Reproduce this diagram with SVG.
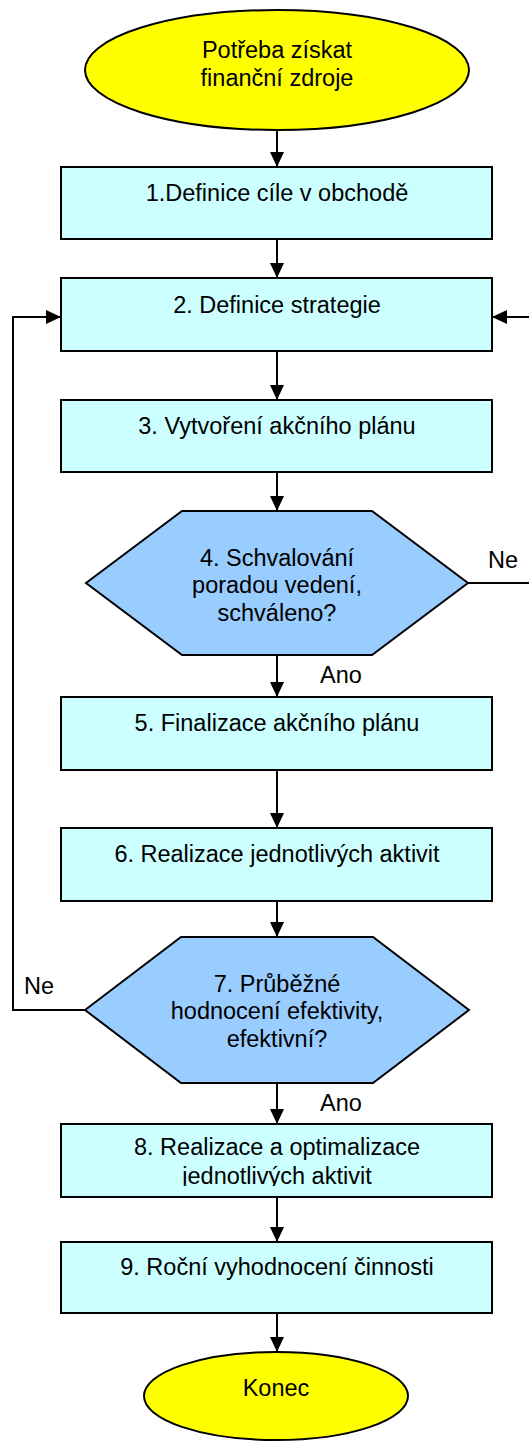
<svg xmlns="http://www.w3.org/2000/svg" width="529" height="1441" viewBox="0 0 529 1441">
  <style>
    .term { fill: #FFFF00; stroke: #000; stroke-width: 2; }
    .proc { fill: #CCFFFF; stroke: #000; stroke-width: 2; }
    .dec { fill: #99CCFF; stroke: #000; stroke-width: 2; }
    .lbl { font-family: "Liberation Sans", Arial, sans-serif; font-size: 23.5px; fill: #000; text-anchor: middle; }
    .tag { font-family: "Liberation Sans", Arial, sans-serif; font-size: 23.5px; fill: #000; }
    .conn { fill: none; stroke: #000; stroke-width: 2; marker-end: url(#arrow); }
  </style>
  <defs>
    <marker id="arrow" markerUnits="userSpaceOnUse" markerWidth="16" markerHeight="14" refX="15" refY="7" orient="auto">
      <path d="M0,0 L15,7 L0,14 z" fill="#000"/>
    </marker>
    <clipPath id="clip8">
      <rect x="61" y="1124" width="431" height="62"/>
    </clipPath>
  </defs>
  <rect width="529" height="1441" fill="#fff"/>

  <!-- connectors -->
  <g id="connectors">
    <path class="conn" d="M277,130 L277,167"/>
    <path class="conn" d="M277,239 L277,278"/>
    <path class="conn" d="M277,351 L277,400"/>
    <path class="conn" d="M277,472 L277,511"/>
    <path class="conn" d="M277,655 L277,697"/>
    <path class="conn" d="M277,770 L277,828"/>
    <path class="conn" d="M277,901 L277,937"/>
    <path class="conn" d="M277,1083 L277,1124"/>
    <path class="conn" d="M277,1197 L277,1242"/>
    <path class="conn" d="M277,1313 L277,1352"/>
    <!-- loop back from decision 4 (Ne) -->
    <path class="conn" d="M468,583 L531,583 L531,317 L492,317"/>
    <!-- loop back from decision 7 (Ne) -->
    <path class="conn" d="M85,1010 L13,1010 L13,317 L61,317"/>
    <text class="tag" x="488" y="568">Ne</text>
    <text class="tag" x="320" y="683">Ano</text>
    <text class="tag" x="24" y="994">Ne</text>
    <text class="tag" x="320" y="1111">Ano</text>
  </g>

  <g id="start">
    <ellipse class="term" cx="277" cy="70" rx="192" ry="60"/>
    <text class="lbl" x="277" y="58">Potřeba získat</text>
    <text class="lbl" x="277" y="86">finanční zdroje</text>
  </g>

  <g id="step1">
    <rect class="proc" x="61" y="167" width="431" height="72"/>
    <text class="lbl" x="277" y="201">1.Definice cíle v obchodě</text>
  </g>

  <g id="step2">
    <rect class="proc" x="61" y="278" width="431" height="73"/>
    <text class="lbl" x="277" y="313">2. Definice strategie</text>
  </g>

  <g id="step3">
    <rect class="proc" x="61" y="400" width="431" height="72"/>
    <text class="lbl" x="277" y="434">3. Vytvoření akčního plánu</text>
  </g>

  <g id="step4">
    <polygon class="dec" points="86,583 182,511 372,511 468,583 372,655 182,655"/>
    <text class="lbl" x="277" y="566">4. Schvalování</text>
    <text class="lbl" x="277" y="593">poradou vedení,</text>
    <text class="lbl" x="277" y="621">schváleno?</text>
  </g>

  <g id="step5">
    <rect class="proc" x="61" y="697" width="431" height="73"/>
    <text class="lbl" x="277" y="731">5. Finalizace akčního plánu</text>
  </g>

  <g id="step6">
    <rect class="proc" x="61" y="828" width="431" height="73"/>
    <text class="lbl" x="277" y="862">6. Realizace jednotlivých aktivit</text>
  </g>

  <g id="step7">
    <polygon class="dec" points="85,1010 181,937 373,937 469,1010 373,1083 181,1083"/>
    <text class="lbl" x="277" y="992">7. Průběžné</text>
    <text class="lbl" x="277" y="1019">hodnocení efektivity,</text>
    <text class="lbl" x="277" y="1047">efektivní?</text>
  </g>

  <g id="step8">
    <rect class="proc" x="61" y="1124" width="431" height="73"/>
    <g clip-path="url(#clip8)">
      <text class="lbl" x="277" y="1155">8. Realizace a optimalizace</text>
      <text class="lbl" x="277" y="1184">jednotlivých aktivit</text>
    </g>
  </g>

  <g id="step9">
    <rect class="proc" x="61" y="1242" width="431" height="71"/>
    <text class="lbl" x="277" y="1275">9. Roční vyhodnocení činnosti</text>
  </g>

  <g id="end">
    <ellipse class="term" cx="276" cy="1396" rx="132" ry="44"/>
    <text class="lbl" x="276" y="1396">Konec</text>
  </g>
</svg>
